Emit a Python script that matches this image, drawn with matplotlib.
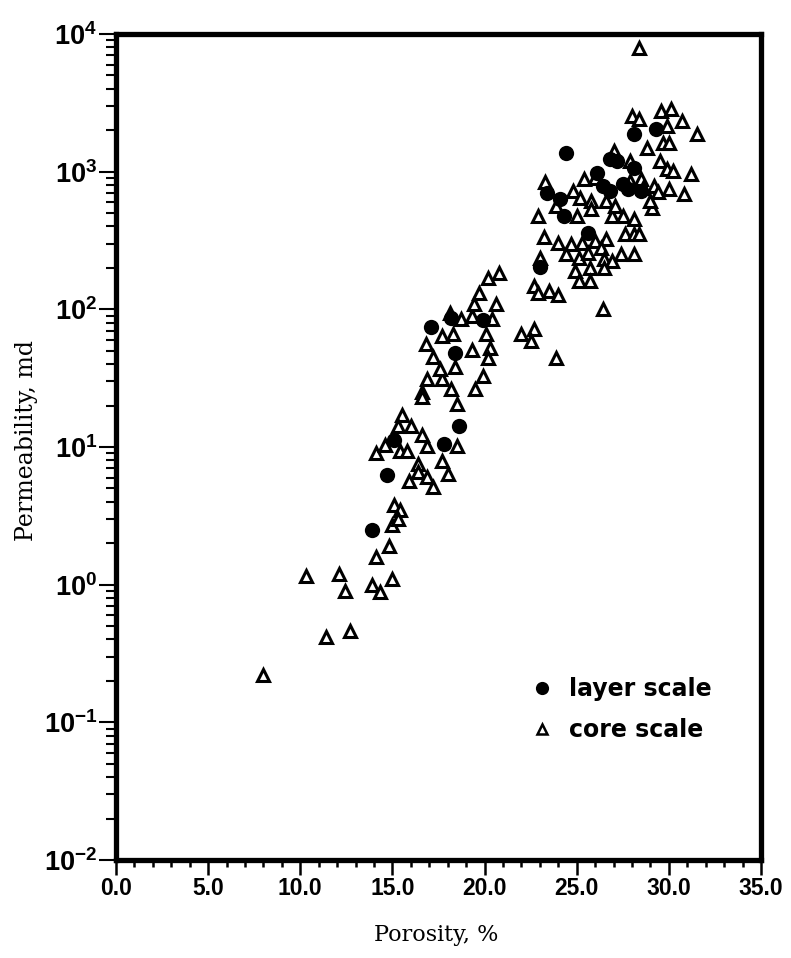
import numpy as np
import matplotlib
matplotlib.use("Agg")
import matplotlib.pyplot as plt
from matplotlib.ticker import MultipleLocator, FuncFormatter, NullFormatter, LogLocator
from matplotlib.lines import Line2D

plt.rcParams["mathtext.fontset"] = "custom"
plt.rcParams["mathtext.rm"] = "Liberation Sans:bold"
plt.rcParams["mathtext.bf"] = "Liberation Sans:bold"

# Core-plug measurements: porosity (%) and permeability (md)
core_phi = [8.0, 10.3, 11.4, 12.7, 12.1, 12.4, 13.9, 14.3, 15.0, 14.1,
            14.8, 15.0, 15.1, 14.1, 14.6, 15.4, 15.3, 15.4, 15.8, 16.9,
            15.5, 15.3, 16.0, 16.6, 18.5, 17.7, 16.4, 16.4, 16.9, 18.0,
            15.9, 17.2, 18.5, 16.6, 16.6, 16.9, 17.7, 19.9, 19.5, 18.2,
            17.6, 18.4, 17.2, 19.3, 16.8, 20.1, 20.3, 20.2, 17.7, 18.3,
            18.1, 18.7, 19.3, 20.4, 19.4, 20.6, 19.7, 20.2, 20.8, 22.0,
            22.7, 22.5, 23.9, 22.7, 23.5, 24.0, 22.9, 23.0, 26.4, 28.4,
            28.0, 28.4, 29.6, 30.1, 30.7, 31.5, 29.9, 29.7, 30.0, 28.8,
            27.0, 31.2, 30.8, 29.5, 29.9, 30.2, 29.2, 30.0, 29.4, 29.1,
            23.3, 25.4, 26.0, 24.8, 25.2, 25.8, 22.9, 25.0, 25.8, 26.9,
            27.5, 28.1, 23.2, 24.0, 24.7, 25.3, 26.0, 26.6, 27.6, 28.1,
            28.4, 26.3, 24.4, 25.1, 25.6, 27.4, 28.1, 26.5, 26.9, 24.9,
            25.7, 26.5, 25.1, 25.7, 27.9, 28.5, 28.6, 29.0, 27.9, 26.6,
            27.1, 23.9]
core_k = [0.22, 1.16, 0.42, 0.46, 1.2, 0.90, 1.0, 0.88, 1.1, 1.6,
          1.9, 2.7, 3.8, 9.1, 10.3, 3.5, 3.0, 9.3, 9.3, 10.1,
          17.2, 14.1, 14.1, 12.3, 10.1, 7.9, 7.5, 6.6, 6.1, 6.4,
          5.7, 5.1, 20.7, 24.9, 22.9, 31, 31, 32.6, 26.6, 26.6,
          37, 38, 45, 51, 56, 66, 52, 44, 64, 66,
          94, 85, 89, 85, 109, 109, 131, 168, 183, 66,
          72, 59, 44, 147, 135, 128, 131, 235, 100, 7900,
          2530, 2410, 2750, 2850, 2330, 1870, 2140, 1610, 1610, 1480,
          1410, 960, 690, 1190, 1040, 1010, 785, 747, 710, 543,
          840, 880, 900, 722, 641, 610, 474, 474, 533, 474,
          474, 452, 334, 302, 297, 302, 313, 323, 351, 351,
          351, 278, 251, 235, 255, 251, 251, 231, 224, 189,
          199, 199, 160, 160, 853, 882, 759, 610, 1190, 610,
          561, 561]

# Layer-scale (upscaled) values
layer_phi = [13.9, 14.7, 15.1, 18.6, 17.8, 18.4, 17.1, 18.2, 19.9, 23.0,
             28.1, 29.3, 24.4, 23.4, 24.1, 24.3, 25.6, 27.5, 26.8, 28.1,
             27.2, 26.1, 27.8, 26.8, 26.4, 28.5]
layer_k = [2.5, 6.3, 11.3, 14.1, 10.6, 48, 74, 86, 83, 202,
           1870, 2040, 1360, 698, 631, 474, 357, 811, 722, 1060,
           1190, 975, 747, 1230, 785, 722]

x_ticks = [0.0, 5.0, 10.0, 15.0, 20.0, 25.0, 30.0, 35.0]
y_ticks = [1e-2, 1e-1, 1e0, 1e1, 1e2, 1e3, 1e4]

fig = plt.figure(figsize=(7.91, 9.58), dpi=100)
ax = fig.add_axes([116 / 791, 98 / 958, 645 / 791, 826 / 958])

ax.plot(core_phi, core_k, linestyle="none", marker="^", ms=8.5,
        mfc="white", mec="black", mew=2.2, zorder=3)
ax.plot(layer_phi, layer_k, linestyle="none", marker="o", ms=11,
        mfc="black", mec="black", mew=0, zorder=4)

ax.set_yscale("log")
ax.set_xlim(0, 35)
ax.set_ylim(1e-2, 1e4)

ax.set_xticks(x_ticks)
ax.xaxis.set_minor_locator(MultipleLocator(1))
ax.xaxis.set_major_formatter(FuncFormatter(lambda v, p: f"{v:.1f}"))

ax.set_yticks(y_ticks)
ax.yaxis.set_minor_locator(LogLocator(base=10, subs=np.arange(2, 10), numticks=100))
ax.yaxis.set_major_formatter(FuncFormatter(
    lambda v, p: r"$\mathrm{10^{%d}}$" % int(round(np.log10(v)))))
ax.yaxis.set_minor_formatter(NullFormatter())

for s in ax.spines.values():
    s.set_linewidth(3.8)

ax.tick_params(axis="y", which="major", direction="out", length=12.5, width=1.5,
               pad=1, labelsize=19.5, left=True, right=False)
ax.tick_params(axis="y", which="minor", direction="out", length=7.5, width=1.5,
               left=True, right=False)
ax.tick_params(axis="x", which="major", direction="out", length=10.5, width=1.8,
               pad=2, labelsize=16.5, bottom=True, top=False)
ax.tick_params(axis="x", which="minor", direction="out", length=5, width=1.8,
               bottom=True, top=False)
for lab in ax.get_xticklabels():
    lab.set_fontfamily("Liberation Sans")
    lab.set_fontweight("bold")

ax.set_xlabel("Porosity, %", family="DejaVu Serif", fontsize=16, va="center")
ax.xaxis.set_label_coords(0.497, -0.091)
ax.set_ylabel("Permeability, md", family="DejaVu Serif", fontsize=17, va="center")
ax.yaxis.set_label_coords(-0.138, 0.508)

handles = [
    Line2D([], [], linestyle="none", marker="o", ms=9.5, mfc="black", mec="black", mew=0),
    Line2D([], [], linestyle="none", marker="^", ms=6.5, mfc="white", mec="black", mew=1.8),
]
leg = ax.legend(handles, ["layer scale", "core scale"], loc="center left",
                bbox_to_anchor=(0.642, 0.182), frameon=False, numpoints=1,
                handlelength=1.0, handletextpad=0.65, labelspacing=0.7,
                borderpad=0, borderaxespad=0,
                prop={"family": "DejaVu Sans", "weight": "bold", "size": 17})

fig.savefig("out.png", dpi=100)
